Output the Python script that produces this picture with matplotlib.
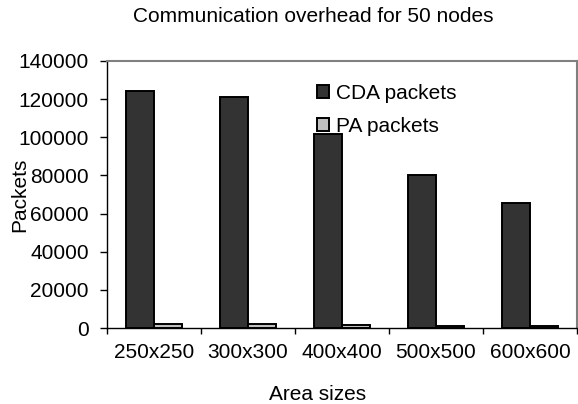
import numpy as np
import matplotlib
matplotlib.use("Agg")
import matplotlib.pyplot as plt

plt.rcParams["font.family"] = ["Liberation Sans", "DejaVu Sans"]

# ── Data ─────────────────────────────────────────────────────────────────────
areas = ["250x250", "300x300", "400x400", "500x500", "600x600"]
cda_packets = [124500, 121000, 101500, 80000, 65500]
pa_packets = [2200, 2100, 1600, 1100, 1000]
y_ticks = [0, 20000, 40000, 60000, 80000, 100000, 120000, 140000]

W, H = 578, 404
fig = plt.figure(figsize=(W / 100, H / 100), dpi=100)
ax = fig.add_axes([107 / W, 1 - 328 / H, 470 / W, 267 / H])

x = np.arange(len(areas))
bw = 0.294
ax.bar(x - bw / 2, cda_packets, bw, color="#333333", edgecolor="black",
       linewidth=1.4, label="CDA packets")
ax.bar(x + bw / 2, pa_packets, bw, color="#c0c0c0", edgecolor="black",
       linewidth=1.4, label="PA packets")

ax.set_xlim(-0.5, len(areas) - 0.5)
ax.set_ylim(0, 140000)
ax.set_yticks(y_ticks)
ax.set_yticklabels([str(v) for v in y_ticks])

# boundary ticks, labels centred on categories
ax.set_xticks(np.arange(-0.5, len(areas), 1))
ax.set_xticklabels([])
ax.set_xticks(x, minor=True)
ax.set_xticklabels(areas, minor=True)
ax.tick_params(axis="x", which="major", direction="out", length=4.3, width=1)
ax.tick_params(axis="x", which="minor", length=0, pad=11, labelsize=15)
ax.tick_params(axis="y", direction="out", length=5, width=1, pad=8, labelsize=15)

for s in ("top", "right"):
    ax.spines[s].set_color("#808080")
    ax.spines[s].set_linewidth(1.5)
for s in ("left", "bottom"):
    ax.spines[s].set_color("black")
    ax.spines[s].set_linewidth(1)

ax.set_title("Communication overhead for 50 nodes", fontsize=15,
             x=0.439, y=1.147, va="baseline", pad=0)
ax.set_xlabel("Area sizes", fontsize=15, va="baseline")
ax.xaxis.set_label_coords(0.448, -0.268)
ax.set_ylabel("Packets", fontsize=15, va="center")
ax.yaxis.set_label_coords(-0.185, 0.5)

ax.legend(loc="upper left", bbox_to_anchor=(317 / W, 1 - 84 / H),
          bbox_transform=fig.transFigure, frameon=False, fontsize=15,
          borderpad=0, borderaxespad=0, handlelength=0.58, handleheight=0.58,
          handletextpad=0.34, labelspacing=0.66)

fig.savefig("out.png", dpi=100)
